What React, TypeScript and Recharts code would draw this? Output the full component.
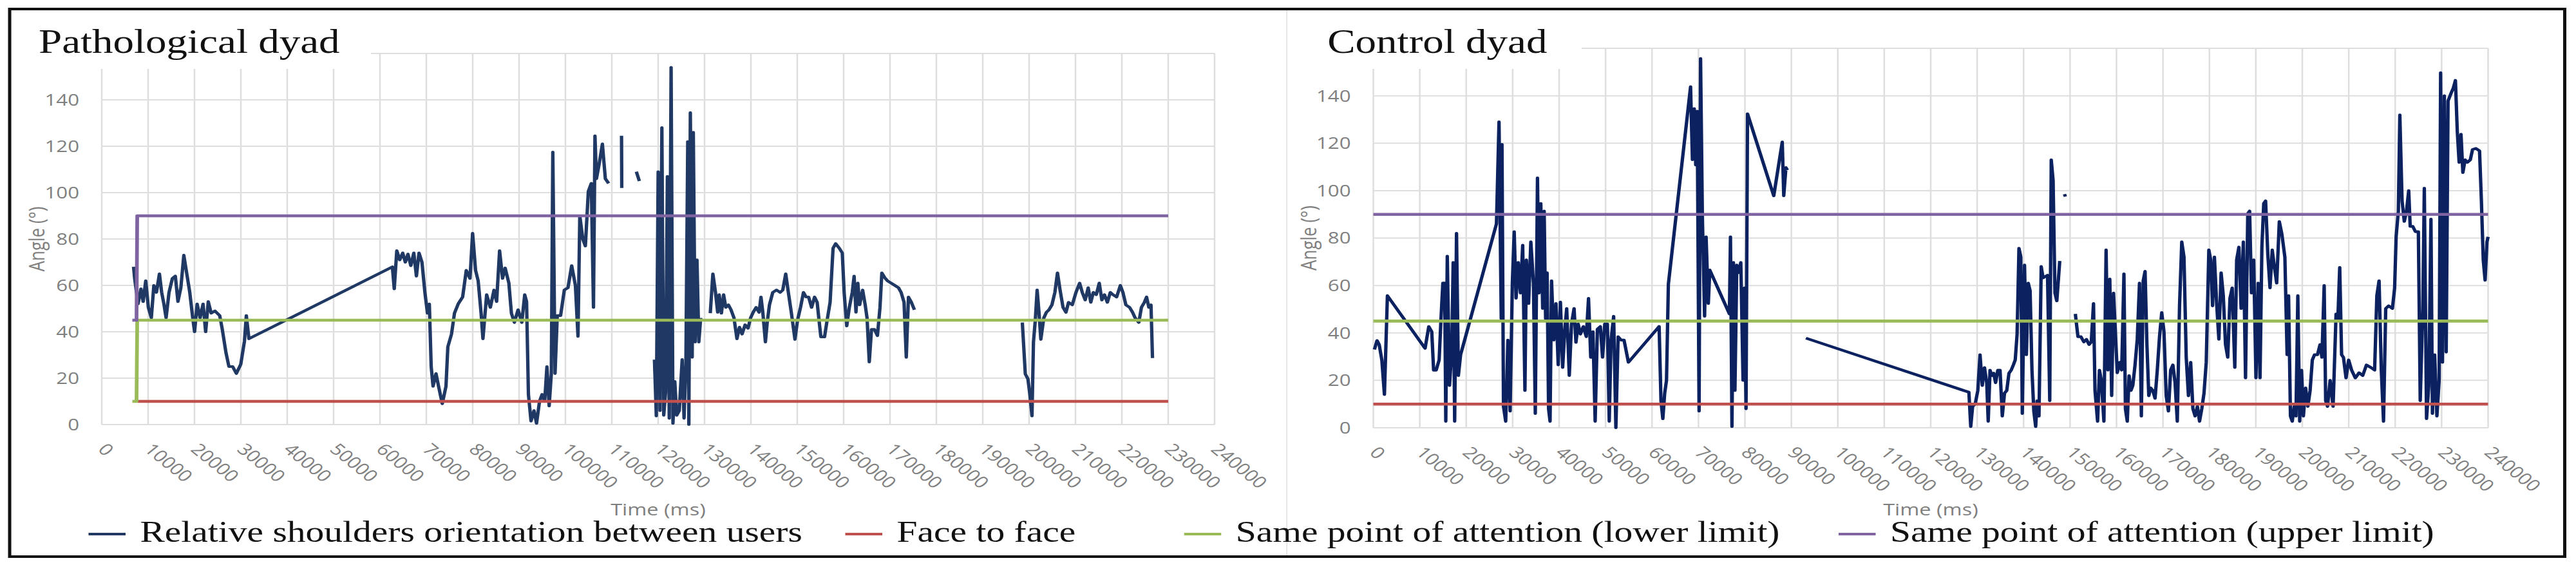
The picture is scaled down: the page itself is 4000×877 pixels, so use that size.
import { CartesianGrid, Line, LineChart, XAxis, YAxis } from 'recharts';

type Pt = [number, number];

// Tick values shared by both panels
const xTicks = [
  0, 10000, 20000, 30000, 40000, 50000, 60000, 70000, 80000, 90000, 100000, 110000, 120000,
  130000, 140000, 150000, 160000, 170000, 180000, 190000, 200000, 210000, 220000, 230000, 240000,
];
const yTicks = [0, 20, 40, 60, 80, 100, 120, 140, 160];

const seriesNames = [
  'Relative shoulders orientation between users',
  'Face to face',
  'Same point of attention (lower limit)',
  'Same point of attention (upper limit)',
];

// ---- Pathological dyad: relative shoulders orientation (time ms, angle °) ----
const pathSeg1: Pt[] = [
  [6860, 68], [7100, 63], [7820, 52], [8450, 58.5], [8930, 53], [9490, 62], [10050, 50.5],
  [10690, 46], [11240, 60], [11800, 57], [12440, 65], [12920, 57], [13400, 52], [13880, 46],
  [14510, 57], [15230, 63], [15870, 64], [16430, 53], [17060, 59], [17700, 73], [18420, 64],
  [18980, 57], [19620, 46], [20020, 40], [20570, 52], [21210, 46], [21850, 52], [22410, 40],
  [22970, 53], [23600, 48], [24400, 49], [25440, 47], [26000, 41], [26790, 31], [27430, 25],
  [28230, 25], [29030, 22], [29980, 26], [30780, 36], [31180, 47], [31740, 37],
  [62680, 68], [63080, 58.5], [63630, 75], [64270, 71], [64910, 74], [65470, 70], [66030, 73.5],
  [66660, 68.5], [67300, 74], [67860, 64], [68420, 74], [69060, 70], [69690, 57], [70250, 48],
  [70650, 52], [71050, 25], [71450, 16.5], [72090, 22], [72640, 16.5], [73440, 9], [74240, 16.5],
  [74640, 33.5], [75430, 39], [76070, 48], [76870, 52], [77830, 55], [78620, 66.5], [79420, 63],
  [79980, 82.5], [80620, 66.5], [81180, 62], [81810, 48], [82210, 37], [83010, 56], [83810, 50.5],
  [84600, 58], [85160, 53], [85800, 75], [86440, 63], [87000, 67.5], [87800, 61], [88350, 48],
  [88990, 44], [89790, 49.5], [90590, 44], [91220, 56], [91620, 53], [92020, 13], [92580, 1.5],
  [93220, 6], [93770, 0.5], [94410, 10], [94970, 13], [95530, 10], [96010, 25], [96490, 8],
  [96960, 22], [97280, 117.5], [97760, 22], [98240, 47], [98960, 47], [99760, 58], [100550, 59],
  [101350, 68.5], [102150, 60], [102710, 38], [103100, 90], [103740, 80], [104300, 77],
  [104940, 100.5], [105580, 104], [106050, 50.5], [106370, 124.5], [106690, 106], [107330, 113],
  [107970, 121], [108610, 106], [109320, 104],
];
const pathSeg2: Pt[] = [[112100, 124.5], [112150, 102]];
const pathSeg3: Pt[] = [[115300, 109], [115940, 105]];
const pathSeg4: Pt[] = [
  [119200, 28], [119600, 3.7], [120000, 109], [120400, 6], [120800, 128], [121200, 4],
  [121600, 14], [121990, 107], [122390, 2.7], [122790, 154], [123190, 0.5], [123590, 18.6],
  [123990, 4], [124550, 6], [125180, 28], [125580, 2.7], [125980, 26], [126380, 122], [126620, 0],
  [126940, 134.5], [127340, 29], [127580, 126], [127970, 35.6], [128370, 71], [128770, 35.6],
  [129170, 46],
];
const pathSeg5: Pt[] = [
  [131240, 48], [131800, 65], [132360, 57], [132840, 48.4], [133160, 56], [133640, 48],
  [134110, 56], [134590, 50.5], [135150, 51.6], [135710, 49.5], [136350, 46], [136990, 37],
  [137540, 42], [138100, 39], [138740, 43], [139380, 41.5], [139940, 46], [140490, 48.4],
  [141130, 50.5], [141770, 48.4], [142170, 55], [142570, 48.4], [143130, 35.6], [143520, 44],
  [144000, 51.6], [144720, 57], [145520, 58], [146310, 57], [146870, 58], [147510, 65],
  [148150, 56], [148710, 48.4], [149500, 36.7], [150060, 45], [150700, 50.5], [151340, 57],
  [151900, 55], [152450, 55], [153090, 50.5], [153730, 55], [154290, 52.7], [154690, 45],
  [155090, 37.8], [155880, 37.8], [156440, 45], [157080, 52.7], [157720, 76], [158280, 78],
  [159070, 76], [159710, 74], [160110, 57], [160670, 42.5], [161230, 50.5], [161860, 57],
  [162260, 64], [162660, 48.4], [163060, 61], [163460, 51.6], [164100, 58], [164650, 51.6],
  [165050, 46], [165530, 27], [166010, 41], [166650, 41], [167290, 38.3], [167840, 50.5],
  [168240, 65.4], [168880, 63.3], [169440, 62], [170240, 61], [171030, 60], [171830, 59],
  [172390, 57], [173030, 52.7], [173510, 29], [173980, 55], [174620, 52.7], [175260, 49.5],
];
const pathSeg6: Pt[] = [
  [198540, 44], [199180, 21.8], [199740, 19.7], [200140, 13.3], [200620, 3.7], [200940, 35.6],
  [201340, 45], [201730, 58], [202130, 48.4], [202530, 36.7], [203170, 46], [203730, 48.4],
  [204290, 49.5], [204920, 51.6], [205560, 57], [206120, 65.4], [206680, 58], [207320, 50.5],
  [207950, 48.4], [208510, 52.7], [209310, 51.6], [210110, 57], [210900, 61], [211460, 57],
  [212100, 53.7], [212740, 59], [213300, 52.7], [213850, 57], [214490, 56], [215130, 61],
  [215690, 53.7], [216250, 56], [216880, 52.7], [217520, 57], [218080, 56], [218880, 55],
  [219680, 60], [220230, 57], [220870, 51.6], [221670, 50.5], [222310, 48.4], [222870, 46],
  [223660, 44], [224220, 50.5], [224860, 52.7], [225340, 55], [225820, 50.5], [226290, 51.6],
  [226610, 28.7],
];
const pathFace: Pt[] = [[7650, 10], [230000, 10]];
const pathLower: Pt[] = [[6600, 10], [7500, 10], [7650, 45], [230000, 45]];
const pathUpper: Pt[] = [[6600, 45], [7500, 45], [7650, 90], [230000, 90]];

// ---- Control dyad ----
const ctrlSeg1: Pt[] = [
  [240, 33], [800, 36.8], [1270, 35], [1830, 28.6], [2390, 14], [3030, 55.7], [11140, 33.5],
  [11940, 42.7], [12580, 40.5], [12980, 24.3], [13530, 24.3], [14170, 28.6], [14570, 46],
  [14970, 61], [15360, 61], [15600, 2.7], [15920, 72.4], [16400, 17.8], [16880, 32.4],
  [17190, 69.7], [17510, 2.7], [17910, 82], [18310, 22], [18790, 30.8], [19100, 33],
  [26510, 86], [27060, 129], [27540, 46], [27700, 119.5], [28020, 9], [28500, 2.7], [28970, 37],
  [29450, 7], [29930, 61], [30330, 82.7], [30730, 54.6], [31200, 69.7], [31680, 56.8],
  [32160, 77], [32640, 15.7], [32950, 70.8], [33430, 52.4], [33910, 78.4], [34470, 61],
  [34870, 6], [35340, 105.4], [35660, 56.8], [36060, 94.6], [36460, 50.3], [36780, 91.4],
  [37090, 46], [37410, 65.4], [37730, 8], [38050, 2.7], [38370, 62], [38850, 37], [39320, 52.4],
  [39800, 26.5], [40280, 53], [40760, 25.4], [41230, 41.6], [41630, 50.3], [42190, 22],
  [42670, 43.8], [43220, 50.3], [43620, 36], [44100, 43.8], [44580, 39.5], [45210, 42.7],
  [45850, 38.4], [46330, 54.6], [46810, 29.7], [47280, 40.5], [47760, 2.7], [48240, 41.6],
  [48870, 42.7], [49350, 29.7], [49830, 43.8], [50390, 43.8], [50790, 2.7], [51180, 37],
  [51740, 47], [52220, 0], [52700, 38.4], [53330, 37], [53970, 37], [54920, 27.6], [61530, 42.7],
  [61930, 11.4], [62330, 3.8], [62730, 14.6], [63120, 20], [63520, 60.5], [68300, 143.8],
  [68700, 113], [69090, 134.6], [69410, 110.8], [69730, 133.5], [70130, 7], [70450, 155.7],
  [70840, 89], [71320, 47], [71640, 80.5], [72120, 52.4], [72440, 66.5], [76660, 48],
  [76890, 80.5], [77210, 0.5], [77530, 69.7], [77850, 15.7], [78250, 68.6], [78650, 65.4],
  [79120, 69.7], [79600, 20], [79920, 59], [80240, 8], [80560, 132.4], [86210, 97.8],
  [88040, 120.5], [88360, 97.8], [88830, 109.7], [89150, 108.6],
];
const ctrlSeg2: Pt[] = [
  [93130, 37.8], [128220, 15], [128620, 0.5], [129020, 9], [129580, 10], [130140, 15.7],
  [130620, 30.8], [131100, 17.8], [131580, 25.4], [132060, 19], [132380, 2.7], [132770, 24.3],
  [133170, 22], [133570, 23], [133970, 19], [134450, 24.3], [134930, 24.3], [135410, 4.9],
  [135890, 14.6], [136370, 15.7], [136850, 23], [137330, 24.3], [137800, 26.5], [138200, 28.6],
  [138600, 39.5], [139000, 75.7], [139400, 72], [139720, 6], [140200, 68.6], [140600, 30.8],
  [141000, 61], [141400, 57.8], [141800, 24.3], [142200, 7], [142600, 0.5], [142910, 11.4],
  [143310, 4.9], [143790, 68], [144190, 63.2], [144670, 63.8], [145150, 64.3], [145630, 11.4],
  [145950, 113], [146350, 104.3], [146750, 56.8], [147150, 53.5], [147780, 70.3],
];
const ctrlSeg3: Pt[] = [[148800, 98.5], [149000, 97.5]];
const ctrlSeg4: Pt[] = [
  [151140, 48], [151700, 38.4], [152340, 38.4], [152970, 36.2], [153530, 37.3], [154090, 35.1],
  [154570, 36.2], [155050, 52.4], [155370, 15.7], [155930, 2.7], [156330, 24.3], [156730, 20],
  [157290, 2.7], [157760, 75], [158160, 24.3], [158560, 62.7], [158960, 13.5], [159360, 56.8],
  [159760, 40.5], [160160, 23.2], [160720, 27.6], [161120, 24.3], [161600, 64.9], [161920, 8],
  [162320, 2.7], [162710, 22], [163110, 15.7], [163510, 17.8], [163990, 26.5], [164470, 37.3],
  [164950, 61], [165350, 4.9], [165750, 62], [166150, 66], [166550, 35.1], [166950, 13.5],
  [167350, 16.8], [167820, 15.7], [168300, 12.4], [168780, 24.3], [169260, 38.4], [169740, 48.6],
  [170220, 40.5], [170700, 13.5], [171180, 7], [171660, 24.3], [172140, 26.5], [172610, 19],
  [173090, 2.7], [173570, 51.4], [174050, 78.4], [174530, 72], [175010, 29.7], [175490, 13.5],
  [175970, 27.6], [176450, 8], [176930, 4.9], [177410, 9], [177880, 2.7], [178360, 8],
  [178840, 14.6], [179320, 27.6], [179880, 75], [180280, 70.8], [180680, 51.4], [181080, 72],
  [181560, 52.4], [182040, 37.3], [182520, 65.4], [182990, 55.7], [183470, 35.1], [183950, 29.7],
  [184430, 54.6], [184910, 59], [185470, 25.4], [185870, 70.8], [186350, 76.2], [186830, 50.3],
  [187310, 78.4], [187780, 21], [188260, 90.3], [188660, 91.4], [189060, 56.8], [189540, 70.8],
  [190020, 21], [190500, 61], [190900, 21], [191300, 76.2], [191700, 94.6], [192100, 95.7],
  [192580, 73], [193050, 59], [193530, 75], [194010, 67.6], [194490, 61], [195050, 87],
  [195610, 81.6], [196250, 71.9], [196730, 30.8], [197050, 55.7], [197450, 4.9], [197840, 2.7],
  [198240, 9], [198640, 4.9], [199040, 55.7], [199440, 2.7], [199840, 24.3], [200240, 4.9],
  [200720, 16.8], [201200, 9], [201680, 15.7], [202160, 28.6], [202630, 30.8], [203270, 30.8],
  [203830, 35.1], [204230, 29.7], [204710, 60], [205030, 11.4], [205430, 9], [205990, 20],
  [206630, 9], [207270, 48], [207660, 46], [208060, 67.6], [208460, 30.8], [208860, 29.7],
  [209420, 21], [209980, 28.6], [210620, 24.3], [211420, 21], [212220, 23.2], [213010, 22],
  [213810, 26.5], [214770, 25.4], [215570, 24.3], [216050, 55.7], [216530, 62], [217010, 24.3],
  [217490, 2.7], [217960, 50.3], [218600, 51.4], [219400, 50.3], [219880, 59], [220200, 80.5],
  [220680, 91.4], [221000, 131.9], [221480, 95.7], [221960, 87], [222440, 91.4], [222910, 100],
  [223230, 84.9], [223790, 84.9], [224350, 82.7], [224990, 82.7], [225390, 11.4], [225950, 50.3],
  [226270, 101], [226750, 3.8], [227230, 17.8], [227700, 88], [228020, 6], [228500, 30.8],
  [228980, 4.9], [229460, 20], [229780, 149.7], [230180, 27.6], [230580, 140], [230980, 31.9],
  [231380, 137.8], [232020, 141], [232500, 143.2], [232970, 146.5], [233370, 124.9],
  [233770, 111.9], [234170, 123.8], [234570, 107.6], [235050, 113], [235530, 111.9],
  [236170, 113], [236650, 117.3], [237370, 117.8], [238160, 116.8], [238560, 95.7],
  [238960, 70.8], [239360, 62.2], [239760, 78.4], [240000, 80.5],
];
const ctrlFace: Pt[] = [[0, 10], [240000, 10]];
const ctrlLower: Pt[] = [[0, 45], [240000, 45]];
const ctrlUpper: Pt[] = [[0, 90], [240000, 90]];

const RED = '#c0504d';
const GREEN = '#9bbb59';
const PURPLE = '#8064a2';
const TICK = '#7f7f7f';
const H = 877;
// the source figure is stretched sideways; draw narrower and widen the whole sheet
const STRETCH = 1.25;
const SANS = '"Open Sans", sans-serif';
const SERIF = '"Liberation Serif", "Times New Roman", serif';

function toRows(segments: Pt[][]) {
  const rows: { t: number; v: number | null }[] = [];
  segments.forEach((seg, i) => {
    if (i > 0) rows.push({ t: seg[0][0] - 1, v: null });
    seg.forEach(([t, v]) => rows.push({ t, v }));
  });
  return rows;
}

function XTick(props: any) {
  const { x, y, payload } = props;
  const ax = x - 6;
  const ay = y + 40;
  return (
    <text x={ax} y={ay} transform={`rotate(45 ${ax} ${ay})`} textAnchor="start"
      fontSize={25} fontFamily={SANS} fill={TICK}>
      {payload.value}
    </text>
  );
}

function YTick(props: any) {
  const { x, y, payload } = props;
  if (payload.value === 160) return <g />;
  return (
    <text x={x} y={y} dy="0.36em" textAnchor="end" fontSize={25} fontFamily={SANS} fill={TICK}>
      {payload.value}
    </text>
  );
}

interface PanelProps {
  title: string;
  left: number;
  width: number;
  plotLeft: number;
  plotRight: number;
  plotTop: number;
  plotBottom: number;
  yLabelOffset: number;
  titleLeft: number;
  maskRight: number;
  color: string;
  shoulders: Pt[][];
  face: Pt[];
  lower: Pt[];
  upper: Pt[];
}

function Panel(p: PanelProps) {
  const lines = [
    { key: 's', rows: toRows(p.shoulders), color: p.color, w: 4.2 },
    { key: 'f', rows: toRows([p.face]), color: RED, w: 4.6 },
    { key: 'l', rows: toRows([p.lower]), color: GREEN, w: 4.6 },
    { key: 'u', rows: toRows([p.upper]), color: PURPLE, w: 4.6 },
  ];
  return (
    <div style={{ position: 'absolute', left: p.left, top: 0, width: p.width, height: H }}>
      <LineChart width={p.width} height={H}
        margin={{ top: p.plotTop, right: p.width - p.plotRight, bottom: 0, left: 0 }}>
        <CartesianGrid stroke="#dedede" strokeWidth={2} />
        <XAxis dataKey="t" type="number" domain={[0, 240000]} ticks={xTicks} interval={0}
          height={H - p.plotBottom} tickSize={0} tickMargin={0} tickLine={false} axisLine={false}
          tick={XTick}
          label={{ value: 'Time (ms)', position: 'insideBottom', offset: 77,
            style: { fontFamily: SANS, fontSize: 26, fill: TICK } }} />
        <YAxis type="number" domain={[0, 160]} ticks={yTicks} interval={0} width={p.plotLeft}
          tickSize={0} tickMargin={28} tickLine={false} axisLine={false} tick={YTick}
          label={{ value: 'Angle (°)', angle: -90, position: 'insideLeft', offset: p.yLabelOffset,
            style: { fontFamily: SANS, fontSize: 26, fill: TICK, textAnchor: 'middle' } }} />
        {lines.map((l) => (
          <Line key={l.key} data={l.rows} dataKey="v" type="linear" stroke={l.color}
            strokeWidth={l.w} strokeLinejoin="round" dot={false} activeDot={false}
            isAnimationActive={false} />
        ))}
      </LineChart>
      <div style={{ position: 'absolute', left: p.plotLeft - 2, top: p.plotTop - 4,
        width: p.maskRight - p.plotLeft + 2, height: 107 - p.plotTop + 4, background: '#fff' }} />
      <div style={{ position: 'absolute', left: p.titleLeft, top: 39, fontFamily: SERIF,
        fontSize: 52, lineHeight: 1, color: '#111', whiteSpace: 'pre' }}>
        {p.title}
      </div>
    </div>
  );
}

const legendColors = ['#1f3864', RED, GREEN, PURPLE];
const legendLeft = [110, 1050, 1471, 2284];

export default function App() {
  return (
    <div style={{ position: 'absolute', left: 0, top: 0, width: 4000 / STRETCH, height: H,
      background: '#fff', transform: `scaleX(${STRETCH})`, transformOrigin: '0 0', overflow: 'hidden' }}>
      <Panel title="Pathological dyad" left={0} width={1598.4} plotLeft={126.4} plotRight={1508.8}
        plotTop={83} plotBottom={659} yLabelOffset={46} titleLeft={48} maskRight={461}
        color="#1f3864" shoulders={[pathSeg1, pathSeg2, pathSeg3, pathSeg4, pathSeg5, pathSeg6]}
        face={pathFace} lower={pathLower} upper={pathUpper} />
      <Panel title="Control dyad" left={1598.4} width={1601.6} plotLeft={108} plotRight={1492.8}
        plotTop={75} plotBottom={664} yLabelOffset={28} titleLeft={50.6} maskRight={366.4}
        color="#0b2160" shoulders={[ctrlSeg1, ctrlSeg2, ctrlSeg3, ctrlSeg4]}
        face={ctrlFace} lower={ctrlLower} upper={ctrlUpper} />
      <div style={{ position: 'absolute', left: 1597.6, top: 16, width: 1.6, height: 848,
        background: '#d9d9d9' }} />
      {seriesNames.map((name, i) => (
        <div key={name} style={{ position: 'absolute', left: legendLeft[i], top: 803,
          display: 'flex', alignItems: 'center', fontFamily: SERIF, fontSize: 46, lineHeight: 1,
          whiteSpace: 'pre', color: '#111' }}>
          <span style={{ display: 'inline-block', width: 46, height: 4, marginRight: 18,
            marginTop: 6, background: legendColors[i] }} />
          {name}
        </div>
      ))}
      <div style={{ position: 'absolute', left: 10.4, top: 12, width: 3177.6, height: 854,
        border: '4px solid #111', boxSizing: 'border-box' }} />
    </div>
  );
}
